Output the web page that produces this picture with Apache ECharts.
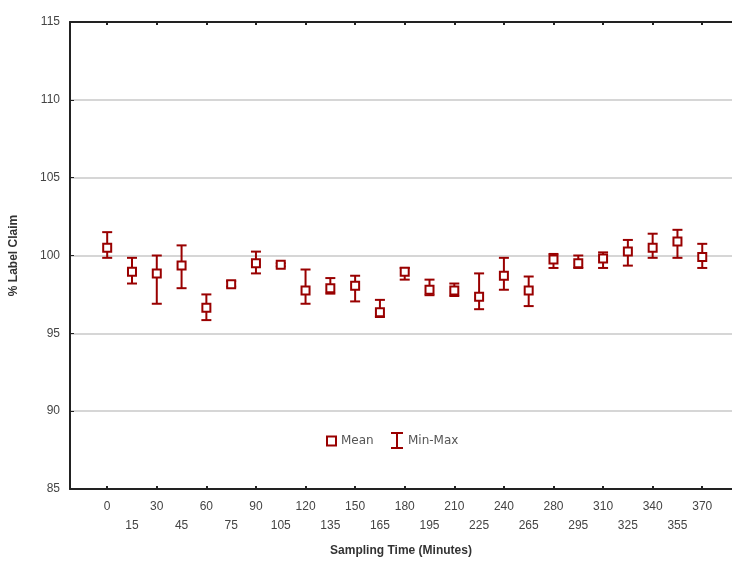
<!DOCTYPE html>
<html>
<head>
<meta charset="utf-8">
<script src="https://cdn.jsdelivr.net/npm/echarts@6/dist/echarts.min.js"></script>
<style>html,body{margin:0;padding:0;background:#fff}#chart{width:732px;height:563px}</style>
</head>
<body>
<div id="chart"></div>
<script>
const categories = ['0','15','30','45','60','75','90','105','120','135','150','165','180','195','210','225','240','265','280','295','310','325','340','355','370'];
const means = [100.5, 98.95, 98.85, 99.35, 96.65, 98.15, 99.5, 99.4, 97.75, 97.9, 98.05, 96.35, 98.95, 97.8, 97.75, 97.35, 98.7, 97.75, 99.75, 99.5, 99.8, 100.25, 100.5, 100.9, 99.9];
const mins  = [99.85, 98.2, 96.9, 97.9, 95.85, 98.0, 98.85, 99.3, 96.9, 97.55, 97.05, 96.05, 98.45, 97.45, 97.4, 96.55, 97.8, 96.75, 99.2, 99.2, 99.2, 99.35, 99.85, 99.85, 99.2];
const maxs  = [101.5, 99.85, 100.0, 100.65, 97.5, 98.35, 100.25, 99.5, 99.1, 98.55, 98.7, 97.15, 99.2, 98.45, 98.2, 98.85, 99.85, 98.65, 100.1, 100.0, 100.2, 101.0, 101.4, 101.65, 100.75];
const yTicks = [85, 90, 95, 100, 105, 110, 115];

const RED = '#990000';
const FONT = 'Liberation Sans';
const idx = categories.map((c, i) => i);
const evenIdx = idx.filter(i => i % 2 === 0);

const chart = echarts.init(document.getElementById('chart'));
const ibeam = 'path://M0,0H12V2H7V15H12V17H0V15H5V2H0Z';

chart.setOption({
  animation: false,
  backgroundColor: '#fff',
  grid: { left: 70, right: 0, top: 22, bottom: 74 },
  legend: [
    { data: [{ name: 'Mean', icon: 'rect' }], left: 321, top: 430, itemWidth: 9, itemHeight: 9, itemGap: 4,
      textStyle: { color: '#555', fontSize: 12, fontFamily: 'DejaVu Sans' } },
    { data: [{ name: 'Min-Max', icon: ibeam }], left: 386, top: 427, itemWidth: 12, itemHeight: 17, itemGap: 5,
      textStyle: { color: '#555', fontSize: 12, fontFamily: 'DejaVu Sans' } }
  ],
  xAxis: [
    {
      type: 'value', position: 'bottom', min: -1.5, max: 25.2,
      name: 'Sampling Time (Minutes)', nameLocation: 'middle', nameGap: 56,
      nameTextStyle: { color: '#333', fontSize: 12, fontWeight: 'bold', fontFamily: FONT },
      splitLine: { show: false },
      axisLine: { show: true, onZero: false, lineStyle: { color: '#222', width: 2 } },
      axisTick: { show: true, inside: true, length: 3, customValues: evenIdx, lineStyle: { color: '#222', width: 2 } },
      axisLabel: { customValues: idx, color: '#444', fontSize: 12, fontFamily: FONT, margin: 8, lineHeight: 19,
        formatter: v => (v % 2 === 1 ? '\n' : '') + categories[v] }
    },
    {
      type: 'value', position: 'top', min: -1.5, max: 25.2,
      splitLine: { show: false },
      axisLine: { show: true, onZero: false, lineStyle: { color: '#222', width: 2 } },
      axisTick: { show: true, inside: true, length: 3, customValues: evenIdx, lineStyle: { color: '#222', width: 2 } },
      axisLabel: { show: false }
    }
  ],
  yAxis: {
    type: 'value', min: 85, max: 115, interval: 5,
    name: '% Label Claim', nameLocation: 'middle', nameGap: 50,
    nameTextStyle: { color: '#333', fontSize: 12, fontWeight: 'bold', fontFamily: FONT },
    axisLine: { show: true, onZero: false, lineStyle: { color: '#222', width: 2 } },
    axisTick: { show: true, inside: true, length: 4, lineStyle: { color: '#222', width: 1 } },
    axisLabel: { color: '#444', fontSize: 12, fontFamily: FONT, margin: 10 },
    splitLine: { show: true, lineStyle: { color: '#c8c8c8', width: 1.5 } }
  },
  series: [
    {
      name: 'Min-Max', type: 'custom',
      itemStyle: { color: RED },
      data: idx.map(i => [i, mins[i], maxs[i]]),
      encode: { x: 0, y: [1, 2] },
      renderItem: function (params, api) {
        const x = api.value(0);
        const lo = api.coord([x, api.value(1)]);
        const hi = api.coord([x, api.value(2)]);
        const hw = 5;
        const style = { stroke: RED, lineWidth: 2, fill: null };
        return {
          type: 'group',
          children: [
            { type: 'line', shape: { x1: lo[0], y1: lo[1], x2: hi[0], y2: hi[1] }, style: style },
            { type: 'line', shape: { x1: lo[0] - hw, y1: lo[1], x2: lo[0] + hw, y2: lo[1] }, style: style },
            { type: 'line', shape: { x1: hi[0] - hw, y1: hi[1], x2: hi[0] + hw, y2: hi[1] }, style: style }
          ]
        };
      }
    },
    {
      name: 'Mean', type: 'scatter', symbol: 'rect', symbolSize: 8,
      itemStyle: { color: '#fff', borderColor: RED, borderWidth: 2, opacity: 1 },
      data: idx.map(i => [i, means[i]]),
      z: 5
    }
  ]
});
</script>
</body>
</html>
